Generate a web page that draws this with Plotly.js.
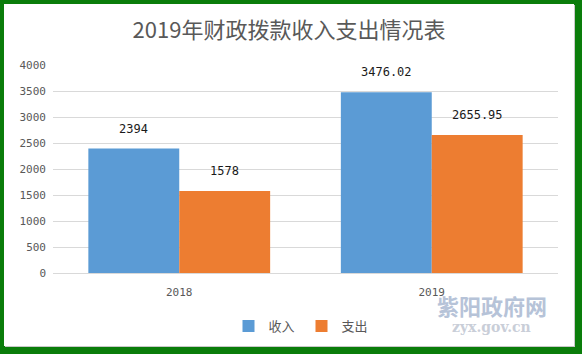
<!DOCTYPE html>
<html>
<head>
<meta charset="utf-8">
<script src="https://cdn.plot.ly/plotly-3.0.1.min.js"></script>
<style>
  html, body { margin: 0; padding: 0; }
  body { width: 582px; height: 354px; background: #0a7d0a; position: relative; overflow: hidden; }
  #frame { position: absolute; left: 4px; top: 4px; width: 570px; height: 342px; background: #fff; box-shadow: 1px 1px 0 #c8c8c8; }
  #chart { width: 570px; height: 342px; }
</style>
</head>
<body>
<div id="frame"><div id="chart"></div></div>
<script>
const categories = ['2018', '2019'];
const income = [2394, 3476.02];
const expense = [1578, 2655.95];
const incomeLabels = ['2394', '3476.02'];
const expenseLabels = ['1578', '2655.95'];
const seriesNames = ['收入', '支出'];
const titleText = '2019年财政拨款收入支出情况表';
const yTicks = [0, 500, 1000, 1500, 2000, 2500, 3000, 3500, 4000];

const W = 570, H = 342;
const margin = { l: 49, r: 16, t: 61, b: 73, pad: 0, autoexpand: false };
const bargap = 0.28;
const catWidth = (W - margin.l - margin.r) / categories.length;
const off = catWidth * (1 - bargap) / 4;

const labelFont = { family: 'DejaVu Sans Mono, monospace', size: 12, color: '#1a1a1a' };
const annotations = [];
categories.forEach((c, i) => {
  annotations.push({ x: i, y: income[i], xref: 'x', yref: 'y', text: incomeLabels[i], showarrow: false,
    xshift: -off, yanchor: 'bottom', yshift: 11, font: labelFont });
  annotations.push({ x: i, y: expense[i], xref: 'x', yref: 'y', text: expenseLabels[i], showarrow: false,
    xshift: off, yanchor: 'bottom', yshift: 11, font: labelFont });
});
annotations.push({ xref: 'paper', yref: 'paper', x: 0.869, y: -0.154, text: '<b>紫阳政府网</b>', showarrow: false,
  font: { family: 'Noto Sans CJK SC', size: 22, color: '#b6c3d8' }, xanchor: 'center', yanchor: 'middle' });
annotations.push({ xref: 'paper', yref: 'paper', x: 0.869, y: -0.262, text: '<b>zyx.gov.cn</b>', showarrow: false,
  font: { family: 'DejaVu Serif, serif', size: 14, color: '#c9ced8' }, xanchor: 'center', yanchor: 'middle' });

const data = [
  { type: 'bar', name: seriesNames[0], x: categories, y: income, marker: { color: '#5b9bd5' }, hoverinfo: 'none' },
  { type: 'bar', name: seriesNames[1], x: categories, y: expense, marker: { color: '#ed7d31' }, hoverinfo: 'none' }
];

const layout = {
  width: W, height: H,
  margin: margin,
  paper_bgcolor: '#ffffff', plot_bgcolor: '#ffffff',
  barmode: 'group', bargap: bargap, bargroupgap: 0,
  title: { text: titleText, x: 0.5, xanchor: 'center', y: 1 - 26 / H, yanchor: 'middle', yref: 'container',
    font: { family: 'Noto Sans CJK SC, sans-serif', size: 22, color: '#595959' } },
  xaxis: { type: 'category', range: [-0.5, categories.length - 0.5], showgrid: false, showline: true, linecolor: '#d9d9d9', linewidth: 1,
    ticks: '', ticklabelstandoff: 9, zeroline: false,
    tickfont: { family: 'DejaVu Sans Mono, monospace', size: 11, color: '#595959' } },
  yaxis: { range: [0, 4000], tickvals: yTicks, ticktext: yTicks.map(String), showgrid: true, gridcolor: '#d9d9d9',
    gridwidth: 1, zeroline: false, showline: false, ticks: '', ticklabelstandoff: 6,
    tickfont: { family: 'DejaVu Sans Mono, monospace', size: 11, color: '#595959' } },
  showlegend: true,
  legend: { orientation: 'h', x: 0.5 - 4 / 505, xanchor: 'center', y: -53 / 208, yanchor: 'middle',
    font: { family: 'Noto Sans CJK SC, sans-serif', size: 13, color: '#595959' },
    itemwidth: 30, entrywidth: 28, entrywidthmode: 'pixels', traceorder: 'normal', itemclick: false },
  annotations: annotations
};

Plotly.newPlot('chart', data, layout, { staticPlot: true, displayModeBar: false });
</script>
</body>
</html>
